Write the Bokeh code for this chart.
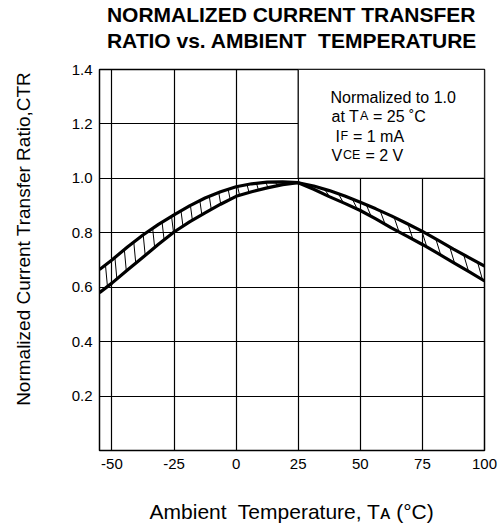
import numpy as np
from bokeh.plotting import figure
from bokeh.models import Range1d, FixedTicker, Label, NumeralTickFormatter, Title
from bokeh.embed import file_html
from bokeh.resources import INLINE

# ---- data ----
temps = [-55, -50, -43.75, -37.5, -31.25, -25, -18.75, -12.5, -6.25, 0, 6.25, 12.5, 18.75,
         25, 31.25, 37.5, 43.75, 50, 56.25, 62.5, 68.75, 75, 81.25, 87.5, 93.75, 100]
ctr_a = [0.665, 0.700, 0.748, 0.792, 0.831, 0.866, 0.899, 0.928, 0.951, 0.969, 0.980, 0.986, 0.987,
         0.984, 0.960, 0.933, 0.908, 0.882, 0.851, 0.818, 0.788, 0.757, 0.724, 0.690, 0.657, 0.623]
ctr_b = [0.580, 0.615, 0.663, 0.710, 0.758, 0.803, 0.840, 0.873, 0.905, 0.934, 0.951, 0.965, 0.977,
         0.984, 0.972, 0.955, 0.935, 0.912, 0.888, 0.862, 0.834, 0.805, 0.773, 0.740, 0.709, 0.678]
x_ticks = [-50, -25, 0, 25, 50, 75, 100]
x_tick_labels = ["-50", "-25", "0", "25", "50", "75", "100"]
y_ticks = [0.2, 0.4, 0.6, 0.8, 1.0, 1.2, 1.4]
ref_temp = 25
ref_ctr = 1.0

# ---- layout ----
FL, FR, FT, FB = 99, 484, 68, 450
X0, X1, Y0, Y1 = -55, 100, 0, 1.4
FONT = "Liberation Sans"
NB = "\u00a0"


def dx(px):
    return X0 + (px - FL) * (X1 - X0) / (FR - FL)


def dy(py):
    return Y0 + (FB - py) * (Y1 - Y0) / (FB - FT)


p = figure(width=500, height=527, output_backend="svg", toolbar_location=None,
           x_range=Range1d(X0, X1), y_range=Range1d(Y0, Y1),
           min_border_left=FL, min_border_right=500 - FR,
           min_border_top=FT, min_border_bottom=527 - FB)
p.background_fill_color = "white"
p.border_fill_color = "white"
p.outline_line_color = "black"
p.outline_line_width = 1.5

p.xaxis.ticker = FixedTicker(ticks=x_ticks)
p.xaxis.major_label_overrides = {t: s for t, s in zip(x_ticks, x_tick_labels)}
p.yaxis.ticker = FixedTicker(ticks=y_ticks)
p.yaxis.formatter = NumeralTickFormatter(format="0.0")
for ax in (p.xaxis, p.yaxis):
    ax.axis_line_color = None
    ax.major_tick_line_color = None
    ax.minor_tick_line_color = None
    ax.major_tick_out = 0
    ax.major_tick_in = 0
    ax.major_label_text_font = FONT
    ax.major_label_text_color = "black"
    ax.major_label_text_font_size = "15px"
    ax.axis_label_text_font = FONT
    ax.axis_label_text_font_style = "normal"
    ax.axis_label_text_color = "black"
p.xaxis.major_label_standoff = 8
p.yaxis.major_label_standoff = 7

# x axis title
p.xaxis.axis_label = "Ambient" + NB + " Temperature, T\u1d00 (\u00b0C)"
p.xaxis.axis_label_text_font_size = "21px"
p.xaxis.axis_label_standoff = 28

# y axis title (leading no-break spaces shift it up like the reference)
p.yaxis.axis_label = NB * 8 + "Normalized Current Transfer Ratio,CTR"
p.yaxis.axis_label_text_font_size = "19px"
p.yaxis.axis_label_standoff = 35

# chart title: a small blank spacer next to the frame, then the two-line title
p.add_layout(Title(text=NB, text_font=FONT, text_font_size="13px", standoff=0), "above")
p.add_layout(Title(text="NORMALIZED CURRENT TRANSFER\nRATIO vs. AMBIENT" + NB + " TEMPERATURE",
                   align="center", text_font=FONT, text_font_size="21px",
                   text_font_style="bold", text_color="black", standoff=0,
                   text_line_height=1.17), "above")

p.grid.grid_line_color = "black"
p.grid.grid_line_width = 1.2
p.grid.grid_line_alpha = 1.0

# annotation box (masks grid in upper right)
p.quad(left=ref_temp, right=X1, bottom=ref_ctr, top=Y1,
       fill_color="white", line_color="black", line_width=1.2)

# hatching between the curves
t = np.array(temps, float)
a = np.array(ctr_a)
b = np.array(ctr_b)
hl = np.arange(-52.6, 21.0, 3.8)
hl_x1 = np.minimum(hl + 0.8, X1)
hr = np.arange(30.0, 100.0, 5.6)
hr_x1 = np.minimum(hr + 2.0, X1)
p.segment(x0=hl, y0=np.interp(hl, t, a), x1=hl_x1, y1=np.interp(hl_x1, t, b),
          line_color="black", line_width=1)
p.segment(x0=hr, y0=np.interp(hr, t, b), x1=hr_x1, y1=np.interp(hr_x1, t, a),
          line_color="black", line_width=1)

p.line(temps, ctr_a, line_color="black", line_width=3.2, line_join="round")
p.line(temps, ctr_b, line_color="black", line_width=3.2, line_join="round")


def txt(text, px, py, size):
    p.add_layout(Label(x=dx(px), y=dy(py), text=text, text_font=FONT,
                       text_font_size=f"{size}px", text_color="black",
                       text_align="left", text_baseline="alphabetic"))


# conditions
txt("Normalized to 1.0", 330, 96, 16)
txt("at T", 331, 115, 16)
txt("A", 359.5, 115, 12.5)
txt(NB + "=" + NB + "25" + NB + "\u02daC", 368, 115, 16)
txt("I", 335, 135, 16)
txt("F", 340, 135, 12.5)
txt(NB + "=" + NB + "1" + NB + "mA", 348, 135, 16)
txt("V", 331, 154, 16)
txt("CE", 342.5, 154, 12.5)
txt(NB + "=" + NB + "2" + NB + "V", 360.5, 154, 16)

open("out.html", "w").write(file_html(p, INLINE))
